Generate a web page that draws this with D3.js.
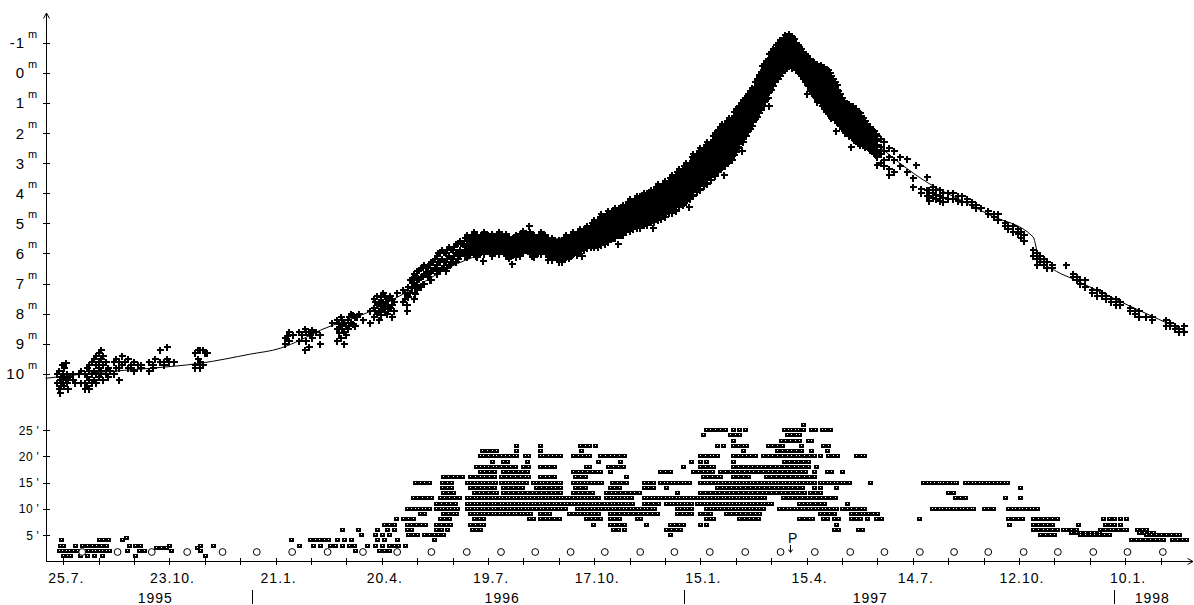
<!DOCTYPE html>
<html><head><meta charset="utf-8">
<script src="https://cdn.jsdelivr.net/npm/d3@7"></script>
<style>
body{margin:0;background:#fff;}
svg{display:block;font-family:"Liberation Sans",Arial,sans-serif;}
</style></head><body>
<svg id="c" width="1194" height="605"></svg>
<script>
// ---------------- DATA ----------------
const startDate = "1995-07-25";            // day 0 of the observation arrays
const axisEndDay = 955;
const magTicks = [-1,0,1,2,3,4,5,6,7,8,9,10];
const comaTicks = [5,10,15,20,25];
const dateTickDays = [0,90,180,270,360,450,540,630,720,810,900];
const yearLabels = ["1995","1996","1997","1998"];
const yearLabelDates = ["1995-10-11","1996-07-31","1997-06-08","1998-02-02"];
const yearStarts = ["1996-01-01","1997-01-01","1998-01-01"];
const perihelion = "1997-04-01";
const fullMoons = ["1995-08-10","1995-09-09","1995-10-08","1995-11-07","1995-12-07","1996-01-05","1996-02-04","1996-03-05","1996-04-04","1996-05-03","1996-06-01","1996-07-01","1996-07-30","1996-08-28","1996-09-27","1996-10-26","1996-11-25","1996-12-24","1997-01-23","1997-02-22","1997-03-24","1997-04-22","1997-05-22","1997-06-20","1997-07-20","1997-08-18","1997-09-16","1997-10-16","1997-11-14","1997-12-14","1998-01-12","1998-02-11"];

// fitted light curve (day, magnitude)
const curveDays = [-15,31,73,116,158,184,201,218,257,294,328,353,387,421,455,489,522,556,582,603,616,629,650,675,709,733,766,785,822,827,842,856,904,953];
const curveMags = [10.15,9.95,9.82,9.65,9.35,9.15,8.88,8.55,7.98,7.22,6.45,6.05,5.75,5.5,5.2,4.6,3.85,2.5,1.2,0.0,-0.6,-0.45,0.55,1.8,3.0,3.66,4.33,4.72,5.45,6.15,6.6,6.85,7.75,8.62];

// total magnitude estimates  "day:mag,mag,..."
const magObs = ["-5:10.0,10.3","-4:9.9,10.5","-3:10.2,10.65","-2:10.1,10.4","-1:9.7,10.2","0:10.0,10.3","1:9.8,10.1,10.4","2:9.65,10.2","3:10.0,10.3","4:10.2,10.5","6:10.1","8:10.0,10.2","10:10.3","13:10.0","15:9.9,10.3",
"18:10.3,10.5,10.0","20:10.4,10.1,9.8","22:10.5,10.2,9.7,9.9","24:10.3,10.0,9.6","26:10.2,9.9,9.5","28:10.0,9.7,9.4,10.3","30:9.8,9.3,9.6,10.1","32:9.9,9.5,9.2,10.0","34:9.7,9.4,10.2","36:9.6,9.9,10.0","38:9.8,10.1","40:9.9",
"43:9.6,10.0","45:9.5,9.8","47:9.6,9.8,10.2","50:9.4,9.7","52:9.6","55:9.5,9.8","57:9.7,9.8","60:9.6,9.9","63:9.7","66:9.8,9.7",
"73:9.6,9.9","76:9.7,9.8","78:9.5","82:9.2,9.6","85:9.6,9.7","88:9.1,9.5","90:9.6","94:9.6",
"112:9.7,9.8,9.3","114:9.5,9.2","116:9.6,9.2,9.8","118:9.2,9.7","120:9.3","122:9.3",
"188:8.8,9.0","190:8.75","191:8.6,8.9","195:8.7","200:8.9,8.6","202:8.7","205:8.5,9.2","206:8.6,8.9","208:8.6,9.1","209:8.7","211:8.55,8.8","214:8.6","218:8.7,9.0","228:8.3","232:8.2,8.5,8.9","233.5:8.35,8.65","235:8.1,8.4,8.8","236.5:8.2,8.5","238:8.3,8.6,9.0","239.5:8.4,8.7","241:8.2,8.5","242.5:8.1,8.4","244:8.0,8.3","245.5:8.05,8.35","247:8.1,8.4","249:8.1","251:8.0","254:8.2",
"260:7.9,8.3","263:7.5,7.8,8.1","264.5:7.6,7.9","266:7.4,7.7,8.0","268:7.6,7.9,8.2","269.5:7.45,7.75,8.05","271:7.3,7.6,7.8","272.5:7.4,7.7,7.95","274:7.5,7.7,8.0","275.5:7.55,7.85","277:7.4,7.8","278.5:7.5,7.7,8.1","280:7.6,7.9","283:7.3","288:7.2,7.6","289.5:7.3,7.5","291:7.4,7.7,7.9","292.5:7.1,7.45","294:6.9,7.3","295.5:6.85,7.15","297:6.7,7.0,7.5","298.5:6.75,7.05,7.35","300:6.6,6.9,7.2","301.5:6.55,6.85,7.1","303:6.5,6.8,7.1","304.5:6.45,6.75,7.0","306:6.4,6.7,7.0","307.5:6.45,6.7","309:6.5,6.8","310.5:6.35,6.65,6.9","312:6.3,6.6,6.9","313.5:6.3,6.55","315:6.2,6.5","316.5:6.1,6.4,6.7","318:6.0,6.3,6.6","319.5:5.95,6.25,6.55","321:5.9,6.2,6.5","322.5:5.95,6.25,6.5","324:6.0,6.3,6.6","325.5:5.9,6.2,6.5","327:5.8,6.1,6.4","328.5:5.85,6.15,6.35","330:5.9,6.2","331.5:5.8,6.1","333:5.7,6.0,6.3","334.5:5.65,5.95,6.2","336:5.6,5.9,6.1","337.5:5.65,5.95","339:5.7,6.0","340.5:5.5,5.8,6.1",
"342:5.4,5.58,5.76,5.94,6.12","343.5:5.5,5.68,5.86,6.04","345:5.45,5.63,5.81,5.99","346.5:5.39,5.57,5.75,5.93","348:5.3,5.48,5.66,5.84,6.02","349.5:5.4,5.58,5.76,5.94,6.1","351:5.39,5.57,5.75,5.93,6.11","352.5:5.48,5.66,5.84,6.0","354:5.4,5.58,5.76,5.94","355.5:5.39,5.57,5.75,5.93","356:6.25","357:5.3,5.48,5.66,5.84,6.02","358.5:5.39,5.57,5.75,5.93","360:5.39,5.57,5.75,5.93","361.5:5.44,5.62,5.8,5.98","363:5.35,5.53,5.71,5.89,6.07","364.5:5.44,5.62,5.8,5.98","366:5.44,5.62,5.8,5.98","367.5:5.39,5.57,5.75,5.93","369:5.3,5.48,5.66,5.84,6.02","370.5:5.39,5.57,5.75,5.93","372:5.39,5.57,5.75,5.93","373.5:5.44,5.62,5.8,5.98","375:5.35,5.53,5.71,5.89,6.07","376.5:5.44,5.62,5.8,5.98,6.1","378:5.44,5.62,5.8,5.98,6.16","379.5:5.53,5.71,5.89,6.07","380:6.35","381:5.5,5.68,5.86,6.04","382.5:5.49,5.67,5.85,6.03","384:5.4,5.58,5.76,5.94,6.12","385.5:5.44,5.62,5.8,5.98","387:5.35,5.53,5.71,5.89,6.07","388.5:5.34,5.52,5.7,5.88,6.0","390:5.25,5.43,5.61,5.79,5.97","391.5:5.34,5.52,5.7,5.88","393:5.34,5.52,5.7,5.88","394.5:5.39,5.57,5.75,5.93","395:5.1","396:5.3,5.48,5.66,5.84,6.02","397.5:5.39,5.57,5.75,5.93,6.08","399:5.39,5.57,5.75,5.93,6.11","400.5:5.48,5.66,5.84,6.02","402:5.45,5.63,5.81,5.99","403.5:5.39,5.57,5.75,5.93","405:5.3,5.48,5.66,5.84,6.02","406.5:5.39,5.57,5.75,5.93","408:5.39,5.57,5.75,5.93","409.5:5.48,5.66,5.84,6.02","411:5.5,5.68,5.86,6.04,6.22","412.5:5.59,5.77,5.95,6.13",
"414:5.5,5.68,5.86,6.04,6.22","415.5:5.59,5.77,5.95,6.13","417:5.59,5.77,5.95,6.13","418.5:5.64,5.82,6.0,6.18","420:5.55,5.73,5.91,6.09,6.27","421.5:5.64,5.82,6.0,6.18","423:5.64,5.82,6.0,6.18,6.3","424.5:5.49,5.67,5.85,6.03,6.2","426:5.4,5.58,5.76,5.94,6.12","427.5:5.49,5.67,5.85,6.03","429:5.49,5.67,5.85,6.03,6.15","430.5:5.39,5.57,5.75,5.93,6.08","432:5.3,5.48,5.66,5.84,6.02","433.5:5.39,5.57,5.75,5.93","435:5.39,5.57,5.75,5.93,6.05","436.5:5.29,5.47,5.65,5.83,5.98","438:5.2,5.38,5.56,5.74,5.92","439.5:5.29,5.47,5.65,5.83","440:6.1","441:5.19,5.37,5.55,5.73,5.88","442.5:5.19,5.37,5.55,5.73","444:5.1,5.28,5.46,5.64,5.82","445.5:5.19,5.37,5.55,5.73","447:5.09,5.27,5.45,5.63,5.78","448.5:5.0,5.18,5.36,5.54,5.72","450:4.9,5.08,5.26,5.44,5.62,5.8","451.5:4.99,5.17,5.35,5.53,5.71","453:4.89,5.07,5.25,5.43,5.61,5.79","454.5:4.79,4.97,5.15,5.33,5.51,5.69",
"456:4.7,4.88,5.06,5.24,5.42,5.6,5.72","457.5:4.79,4.97,5.15,5.33,5.51","459:4.79,4.97,5.15,5.33,5.51,5.69","460.5:4.69,4.87,5.05,5.23,5.41,5.59","462:4.6,4.78,4.96,5.14,5.32,5.5,5.62","463.5:4.69,4.87,5.05,5.23,5.41","465:4.59,4.77,4.95,5.13,5.31,5.49","466.5:4.59,4.77,4.95,5.13,5.31,5.49","468:4.5,4.68,4.86,5.04,5.22,5.4,5.5","469.5:4.59,4.77,4.95,5.13,5.31","470:5.7","471:4.49,4.67,4.85,5.03,5.21,5.39","472.5:4.49,4.67,4.85,5.03,5.21,5.39","474:4.4,4.58,4.76,4.94,5.12,5.3,5.4","475.5:4.49,4.67,4.85,5.03,5.21","477:4.39,4.57,4.75,4.93,5.11,5.29","478.5:4.29,4.47,4.65,4.83,5.01,5.19","480:4.2,4.38,4.56,4.74,4.92,5.1,5.26","481.5:4.29,4.47,4.65,4.83,5.01","483:4.29,4.47,4.65,4.83,5.01,5.19","484.5:4.19,4.37,4.55,4.73,4.91,5.09","486:4.1,4.28,4.46,4.64,4.82,5.0,5.16","487.5:4.19,4.37,4.55,4.73,4.91","489:4.09,4.27,4.45,4.63,4.81,4.99,5.17","490.5:4.09,4.27,4.45,4.63,4.81,4.99","492:4.0,4.18,4.36,4.54,4.72,4.9,5.06","493.5:4.09,4.27,4.45,4.63,4.81,4.99","495:3.99,4.17,4.35,4.53,4.71,4.89,5.07","496.5:3.99,4.17,4.35,4.53,4.71,4.89","498:3.9,4.08,4.26,4.44,4.62,4.8,4.96","499.5:3.99,4.17,4.35,4.53,4.71,4.89","500:5.15","501:3.89,4.07,4.25,4.43,4.61,4.79,4.97","502.5:3.79,3.97,4.15,4.33,4.51,4.69,4.85","504:3.7,3.88,4.06,4.24,4.42,4.6,4.78,4.9","505.5:3.79,3.97,4.15,4.33,4.51,4.69","507:3.79,3.97,4.15,4.33,4.51,4.69,4.87","508.5:3.69,3.87,4.05,4.23,4.41,4.59,4.75","510:3.6,3.78,3.96,4.14,4.32,4.5,4.68,4.8","511.5:3.69,3.87,4.05,4.23,4.41,4.59","513:3.59,3.77,3.95,4.13,4.31,4.49,4.67","514.5:3.49,3.67,3.85,4.03,4.21,4.39,4.57","516:3.4,3.58,3.76,3.94,4.12,4.3,4.48,4.66","517.5:3.49,3.67,3.85,4.03,4.21,4.39,4.57","519:3.39,3.57,3.75,3.93,4.11,4.29,4.47,4.6","520.5:3.29,3.47,3.65,3.83,4.01,4.19,4.37","522:3.2,3.38,3.56,3.74,3.92,4.1,4.28,4.46","523.5:3.29,3.47,3.65,3.83,4.01,4.19,4.37","525:3.19,3.37,3.55,3.73,3.91,4.09,4.27,4.4","526.5:3.09,3.27,3.45,3.63,3.81,3.99,4.17,4.33","528:3.0,3.18,3.36,3.54,3.72,3.9,4.08,4.26","529.5:3.09,3.27,3.45,3.63,3.81,3.99,4.17","530:4.45","531:2.99,3.17,3.35,3.53,3.71,3.89,4.07,4.2","532.5:2.79,2.97,3.15,3.33,3.51,3.69,3.87,4.05","534:2.7,2.88,3.06,3.24,3.42,3.6,3.78,3.96,4.1","535.5:2.79,2.97,3.15,3.33,3.51,3.69,3.87","537:2.69,2.87,3.05,3.23,3.41,3.59,3.77,3.95","538.5:2.59,2.77,2.95,3.13,3.31,3.49,3.67,3.85","540:2.5,2.68,2.86,3.04,3.22,3.4,3.58,3.76,3.9","541.5:2.59,2.77,2.95,3.13,3.31,3.49,3.67","543:2.49,2.67,2.85,3.03,3.21,3.39,3.57,3.75","544.5:2.39,2.57,2.75,2.93,3.11,3.29,3.47,3.65","546:2.3,2.48,2.66,2.84,3.02,3.2,3.38,3.56,3.7","547.5:2.39,2.57,2.75,2.93,3.11,3.29,3.47","549:2.29,2.47,2.65,2.83,3.01,3.19,3.37,3.55","550.5:2.09,2.27,2.45,2.63,2.81,2.99,3.17,3.35",
"552:2.0,2.18,2.36,2.54,2.72,2.9,3.08,3.26,3.44","553.5:1.99,2.17,2.35,2.53,2.71,2.89,3.07,3.25","555:1.89,2.07,2.25,2.43,2.61,2.79,2.97,3.15,3.3","556.5:1.79,1.97,2.15,2.33,2.51,2.69,2.87,3.05,3.2","558:1.7,1.88,2.06,2.24,2.42,2.6,2.78,2.96,3.14","559.5:1.79,1.97,2.15,2.33,2.51,2.69,2.87,3.05","560:3.4","561:1.69,1.87,2.05,2.23,2.41,2.59,2.77,2.95,3.1","562.5:1.59,1.77,1.95,2.13,2.31,2.49,2.67,2.85,3.0","564:1.5,1.68,1.86,2.04,2.22,2.4,2.58,2.76,2.94","565.5:1.59,1.77,1.95,2.13,2.31,2.49,2.67,2.85","567:1.49,1.67,1.85,2.03,2.21,2.39,2.57,2.75,2.9","568.5:1.29,1.47,1.65,1.83,2.01,2.19,2.37,2.55,2.72","570:1.2,1.38,1.56,1.74,1.92,2.1,2.28,2.46,2.64","571.5:1.19,1.37,1.55,1.73,1.91,2.09,2.27,2.45","573:1.09,1.27,1.45,1.63,1.81,1.99,2.17,2.35,2.5","574.5:0.99,1.17,1.35,1.53,1.71,1.89,2.07,2.25","575:2.6","576:0.9,1.08,1.26,1.44,1.62,1.8,1.98,2.16,2.3","577.5:0.84,1.02,1.2,1.38,1.56,1.74,1.92,2.1","579:0.84,1.02,1.2,1.38,1.56,1.74,1.92,2.1","580.5:0.69,0.87,1.05,1.23,1.41,1.59,1.77,1.95","582:0.6,0.78,0.96,1.14,1.32,1.5,1.68,1.86","583.5:0.51,0.69,0.87,1.05,1.23,1.41,1.59,1.77","585:0.54,0.72,0.9,1.08,1.26,1.44,1.62","586.5:0.29,0.47,0.65,0.83,1.01,1.19,1.37,1.55","588:0.2,0.38,0.56,0.74,0.92,1.1,1.28,1.46","589.5:0.08,0.26,0.44,0.62,0.8,0.98,1.16,1.34","591:-0.01,0.17,0.35,0.53,0.71,0.89,1.07,1.25","592.5:-0.21,-0.03,0.15,0.33,0.51,0.69,0.87,1.05","594:-0.3,-0.12,0.06,0.24,0.42,0.6,0.78,0.96,1.1","595.5:-0.39,-0.21,-0.03,0.15,0.33,0.51,0.69,0.87","597:-0.41,-0.23,-0.05,0.13,0.31,0.49,0.67,0.85","598:1.1","598.5:-0.61,-0.43,-0.25,-0.07,0.11,0.29,0.47,0.65","600:-0.7,-0.52,-0.34,-0.16,0.02,0.2,0.38,0.56","601.5:-0.79,-0.61,-0.43,-0.25,-0.07,0.11,0.29,0.45","603:-0.76,-0.58,-0.4,-0.22,-0.04,0.14,0.32","604.5:-0.91,-0.73,-0.55,-0.37,-0.19,-0.01,0.17","606:-1.0,-0.82,-0.64,-0.46,-0.28,-0.1,0.08,0.2","607.5:-1.09,-0.91,-0.73,-0.55,-0.37,-0.19,-0.01,0.1","609:-1.06,-0.88,-0.7,-0.52,-0.34,-0.16,0.0","610.5:-1.16,-0.98,-0.8,-0.62,-0.44,-0.26,-0.08","612:-1.25,-1.07,-0.89,-0.71,-0.53,-0.35,-0.17","613.5:-1.21,-1.03,-0.85,-0.67,-0.49,-0.31,-0.15","615:-1.3,-1.12,-0.94,-0.76,-0.58,-0.4,-0.22","616.5:-1.21,-1.03,-0.85,-0.67,-0.49,-0.31","618:-1.2,-1.02,-0.84,-0.66,-0.48,-0.3,-0.15","619.5:-1.11,-0.93,-0.75,-0.57,-0.39,-0.21","621:-1.0,-0.82,-0.64,-0.46,-0.28,-0.1","622.5:-0.91,-0.73,-0.55,-0.37,-0.19,-0.05","624:-0.85,-0.67,-0.49,-0.31,-0.13,0.02","625.5:-0.79,-0.61,-0.43,-0.25,-0.07,0.11","627:-0.7,-0.52,-0.34,-0.16,0.02,0.2","628.5:-0.61,-0.43,-0.25,-0.07,0.11,0.29","630:-0.55,-0.37,-0.19,-0.01,0.17,0.35,0.7","631.5:-0.46,-0.28,-0.1,0.08,0.26,0.44","633:-0.45,-0.27,-0.09,0.09,0.27,0.45,0.6","634.5:-0.36,-0.18,0.0,0.18,0.36,0.54,0.68","636:-0.35,-0.17,0.01,0.19,0.37,0.55,0.73","637.5:-0.26,-0.08,0.1,0.28,0.46,0.64,0.82","639:-0.3,-0.12,0.06,0.24,0.42,0.6,0.78,0.96","640.5:-0.21,-0.03,0.15,0.33,0.51,0.69,0.87","642:-0.25,-0.07,0.11,0.29,0.47,0.65,0.83,1.01","643.5:-0.16,0.02,0.2,0.38,0.56,0.74,0.92,1.1","645:-0.2,-0.02,0.16,0.34,0.52,0.7,0.88,1.06,1.2","646.5:-0.11,0.07,0.25,0.43,0.61,0.79,0.97,1.15,1.28","648:-0.1,0.08,0.26,0.44,0.62,0.8,0.98,1.16,1.34","649.5:0.01,0.19,0.37,0.55,0.73,0.91,1.09,1.27,1.42","651:0.1,0.28,0.46,0.64,0.82,1.0,1.18,1.36,1.5","652.5:0.19,0.37,0.55,0.73,0.91,1.09,1.27,1.45","654:0.3,0.48,0.66,0.84,1.02,1.2,1.38,1.56","655:1.95","655.5:0.39,0.57,0.75,0.93,1.11,1.29,1.47,1.65","657:0.6,0.78,0.96,1.14,1.32,1.5,1.68","658.5:0.69,0.87,1.05,1.23,1.41,1.59,1.77","660:0.85,1.03,1.21,1.39,1.57,1.75,1.85","661.5:0.94,1.12,1.3,1.48,1.66,1.84","663:1.0,1.18,1.36,1.54,1.72,1.9,2.0","664.5:1.09,1.27,1.45,1.63,1.81,1.99","666:1.05,1.23,1.41,1.59,1.77,1.95,2.1","667.5:1.14,1.32,1.5,1.68,1.86,2.04","668:2.45","669:1.1,1.28,1.46,1.64,1.82,2.0,2.18","670.5:1.19,1.37,1.55,1.73,1.91,2.09,2.22","672:1.2,1.38,1.56,1.74,1.92,2.1,2.28","673.5:1.29,1.47,1.65,1.83,2.01,2.19,2.33","675:1.35,1.53,1.71,1.89,2.07,2.25,2.4","676.5:1.44,1.62,1.8,1.98,2.16,2.34","678:1.5,1.68,1.86,2.04,2.22,2.4","679.5:1.59,1.77,1.95,2.13,2.31,2.45","681:1.7,1.88,2.06,2.24,2.42","682.5:1.79,1.97,2.15,2.33,2.5","684:1.8,1.98,2.16,2.34,2.55","685.5:1.89,2.07,2.25,2.43,2.6","687:1.95,2.13,2.31,2.49,2.67","688.5:2.04,2.22,2.4,2.58,2.72","690:2.1,2.28,2.46,2.64,2.8,3.05","693:2.2,2.45,2.7,3.0","696:2.3,2.6,2.9,3.1","700:2.5,2.8,3.2,3.4","704:2.6,2.9,3.3","709:2.8,3.1","715:2.85,3.3","720:3.5,3.8","723:3.07","727:3.85,4.0","732:3.45,3.9,4.1",
"734:3.9,4.1,4.25","737:3.8,4.0,4.15","740:3.9,4.05,4.2","743:3.9,4.1,4.25","746:4.0,4.15,4.3","750:4.0,4.2","754:4.0,4.2","758:4.1,4.25","762:4.1,4.3","766:4.2,4.3","770:4.3,4.4","774:4.4,4.5","778:4.5","784:4.6,4.7","789:4.7,4.8","792:4.7,4.9","798:5.0,5.1","801:5.1,5.2","805:5.1,5.3","809:5.2,5.35","812:5.3,5.5","814:5.4,5.6","822:5.9,6.1","825:6.0,6.2,6.4","828:6.1,6.3","831:6.2,6.4","834:6.3,6.5","838:6.4,6.5","850:6.4","856:6.7,6.8","859:6.8,6.9","862:6.9,7.0","866:6.9,7.1","872:7.2,7.3","876:7.2,7.4","880:7.3,7.4","884:7.4,7.5","888:7.5,7.6","892:7.5,7.7","896:7.6,7.7","904:7.8,7.9","908:7.9,8.0","912:7.9,8.1","918:8.1","923:8.1,8.2","935:8.2,8.4","938:8.3,8.4","942:8.4,8.5","946:8.5,8.6","950:8.4,8.6"];

// coma diameter estimates (arcmin)  "diameter:day,day,..."
const comaObs = [
"26:627",
"25:545,548,552,557,561,568,573,578,611,614,617,620,623,627,634,637,643,646,650",
"24:542,565,569,573,613,617,621,624",
"23:568,608,612,616,620,624,631,634",
"22:384,404,438,442,446,451,554,559,568,572,576,579,597,601,605,609,625,644,648",
"21:355,359,363,367,384,404,439,576,605,609,613,617,621,625,634,647",
"20:353,356,360,364,367,371,374,378,381,384,391,394,404,407,411,414,418,421,432,436,440,443,446,455,459,463,467,471,475,540,544,548,551,554,568,572,575,579,582,586,593,597,601,605,609,613,617,621,624,628,632,636,641,648,652,656,672,676,679",
"19:363,373,376,393,453,472,532,540,545,568,611,615,619,623,627,631",
"18:350,353,357,360,364,367,371,375,379,383,390,394,404,408,412,416,443,446,462,466,470,474,525,540,544,548,551,568,572,576,580,584,588,591,595,599,603,607,611,615,619,623,627,631,638",
"17:353,357,361,365,373,377,381,385,389,393,432,436,440,444,448,452,455,463,506,510,514,534,538,542,546,550,557,561,565,569,573,577,581,585,589,593,597,601,605,609,613,617,621,625,629,636,647,651,660",
"16:322,326,330,334,338,345,349,353,357,361,365,371,375,379,383,387,391,394,404,408,412,416,434,438,442,477,542,546,550,554,557,568,572,576,580,596,600,604,608,612,616,620,624,628,632,636",
"15:298,302,306,310,321,325,329,342,345,348,351,354,357,360,363,366,371,374,377,380,383,386,389,392,398,401,404,407,410,413,416,419,421,432,435,438,441,444,447,450,453,456,465,469,473,477,492,496,500,506,509,512,515,518,521,524,527,530,540,543,546,549,552,555,558,561,564,567,570,573,576,579,582,585,588,591,594,597,600,603,606,609,612,615,618,621,624,627,630,633,636,641,644,647,650,653,656,659,662,666,684,729,732,735,738,741,743,746,749,752,755,757,764,767,770,773,776,779,782,785,788,791,794,797,800",
"14:321,325,329,345,349,353,357,361,365,373,377,381,385,389,401,405,409,413,417,421,434,438,442,463,467,471,492,496,500,511,554,558,562,566,570,574,578,582,586,590,594,598,602,606,610,614,618,622,626,636,641,655,811",
"13:322,326,330,348,352,356,360,364,367,373,377,381,385,389,393,397,401,405,409,413,417,421,432,436,440,444,448,460,464,468,472,476,480,484,488,520,540,544,548,552,556,560,564,568,572,576,580,584,588,592,596,600,604,608,612,616,620,624,628,633,637,641,750,754",
"12:296,300,304,308,312,319,323,327,331,335,342,345,348,351,354,357,360,363,366,369,372,375,378,381,384,387,390,393,396,399,402,405,408,411,414,417,420,423,426,429,432,435,438,441,444,447,450,453,460,463,466,469,472,475,478,481,492,495,498,501,504,507,510,513,516,519,522,525,528,531,534,537,540,543,546,549,552,555,558,561,564,567,570,573,576,579,582,585,588,591,594,610,614,618,622,626,630,634,638,642,646,650,654,756,760,764,798,811",
"11:316,320,324,328,332,342,345,348,351,354,357,360,363,366,370,373,376,379,382,385,388,391,394,397,400,403,406,409,412,415,418,421,424,427,430,433,436,439,442,445,448,451,454,458,461,464,467,470,473,476,479,482,492,496,500,504,511,514,517,520,523,526,529,532,537,540,543,546,549,552,555,558,561,564,567,570,573,576,579,582,585,588,591,594,597,600,624,627,630,633,637,641,645,664",
"10:291,295,298,301,304,307,310,316,319,322,325,328,331,334,342,345,348,351,354,357,360,363,366,370,373,376,379,382,385,388,391,394,397,401,404,407,410,413,416,419,422,425,435,438,441,444,447,450,453,456,459,462,465,468,471,474,477,480,483,486,489,492,495,498,501,520,523,526,529,532,545,548,551,554,557,560,563,566,569,572,575,578,581,584,587,590,593,607,610,613,616,619,622,625,628,631,634,637,640,643,646,649,652,655,660,664,668,672,676,679,736,739,742,745,748,751,754,757,760,763,766,769,771,780,784,788,801,804,807,810,813,816,819,822,825",
"9:302,306,322,326,330,333,345,348,351,354,357,360,363,366,369,372,375,378,381,384,387,390,393,396,404,408,412,429,432,435,438,441,444,447,450,453,463,467,471,475,479,483,487,491,495,499,503,520,524,528,532,540,544,548,562,566,570,574,578,582,586,590,641,645,649,653,668,672,676,679,682,686,690",
"8:282,288,292,296,319,323,327,348,352,356,395,398,404,408,412,416,420,443,447,451,455,463,467,471,486,489,545,548,551,573,577,581,585,589,624,628,632,635,644,647,653,657,668,672,675,681,689,693,725,801,805,809,813,822,826,830,834,838,842,881,886,891,896,901",
"7:272,276,280,291,295,299,303,307,316,320,324,328,345,349,353,356,449,463,467,471,475,494,514,518,522,525,540,545,655,802,822,826,830,834,838,860,883,887,891,896",
"6:236,250,266,274,280,291,295,316,320,325,346,350,353,466,470,475,511,515,519,523,653,657,674,677,822,826,830,834,838,842,847,850,854,858,879,883,887,890,894,898,901,910,914,918",
"5.5:854,858,862,866,870,874,878,912,916,920,924",
"5:252,264,270,276,292,296,300,306,310,314,318,322,514,828,832,836,840,862,866,870,874,878,882,886,918,922,926,930,935,939,943,946",
"4.5:53",
"4:-2,30,34,38,50,193,209,213,217,221,224,232,238,244,266,272,283,314,905,909,913,917,921,925,929,932,940,944,948,952",
"3:-3,0,10,16,20,24,28,32,36,56,61,65,90,116,127,200,212,218,226,230,236,242,246,257,264,270,276,280,284,290",
"2.5:79,83,87,113",
"2:-4,-1,2,5,8,12,15,18,21,24,27,30,33,36,39,54,64,68,91,116,247,268,272,276",
"1:0,3,6,14,20,26,33,61,120"
];

// ---------------- DRAWING ----------------
const DAY = 864e5;
const t0 = Date.parse(startDate + "T00:00:00Z");
const dayToDate = d => new Date(t0 + d * DAY);
const parseDate = s => new Date(Date.parse(s + "T00:00:00Z"));

const x = d3.scaleUtc().domain([dayToDate(-14.66), dayToDate(axisEndDay)]).range([46, 1190]);
const yMag = d3.scaleLinear().domain([-1, 10]).range([42.7, 373.8]);
const yComa = d3.scaleLinear().domain([0, 25]).range([561.5, 430.2]);

const svg = d3.select("#c");
const ink = "#000";

const magPts = magObs.flatMap(s => { const [d, v] = s.split(":"); return v.split(",").map(m => ({d: +d, m: +m})); });
const comaPts = comaObs.flatMap(s => { const [v, ds] = s.split(":"); return ds.split(",").map(d => ({d: +d, v: +v})); });

// coma squares (black with a small white centre)
const cx = p => Math.round(x(dayToDate(p.d)));
const cy = p => Math.round(yComa(p.v));
const cg = svg.append("g").attr("shape-rendering", "crispEdges");
cg.selectAll("rect.b").data(comaPts).join("rect").attr("class", "b")
  .attr("x", p => cx(p) - 2).attr("y", p => cy(p) - 2)
  .attr("width", 5).attr("height", 4).attr("fill", ink);
cg.selectAll("rect.w").data(comaPts).join("rect").attr("class", "w")
  .attr("x", p => cx(p)).attr("y", p => cy(p) - 1)
  .attr("width", 1).attr("height", 1).attr("fill", "#fff");

// full moons
svg.append("g").selectAll("circle").data(fullMoons).join("circle")
  .attr("cx", s => x(parseDate(s))).attr("cy", 552).attr("r", 3.4)
  .attr("fill", "#fff").attr("stroke", ink).attr("stroke-width", 1);

// fitted curve
const line = d3.line().x(d => x(dayToDate(d[0]))).y(d => yMag(d[1])).curve(d3.curveMonotoneX);
svg.append("path").datum(curveDays.map((d, i) => [d, curveMags[i]]))
  .attr("d", line).attr("fill", "none").attr("stroke", ink).attr("stroke-width", 1);

// magnitude crosses
svg.append("g").selectAll("path").data(magPts).join("path")
  .attr("transform", p => `translate(${Math.round(x(dayToDate(p.d)))},${Math.round(yMag(p.m))})`)
  .attr("d", "M-3,0H4M0,-3V4")
  .attr("stroke", ink).attr("stroke-width", 2).attr("fill", "none")
  .attr("shape-rendering", "crispEdges");

// axes
const ax = svg.append("g").attr("stroke", ink).attr("fill", "none").attr("shape-rendering", "crispEdges");
ax.append("line").attr("x1", 46.5).attr("x2", 46.5).attr("y1", 13).attr("y2", 562);
ax.append("line").attr("x1", 46).attr("x2", 1193).attr("y1", 561.5).attr("y2", 561.5);
svg.append("path").attr("d", "M43.5,18.5L46.5,13L49.5,18.5").attr("stroke", ink).attr("fill", "none");
svg.append("path").attr("d", "M1187.5,558.5L1193,561.5L1187.5,564.5").attr("stroke", ink).attr("fill", "none");

magTicks.forEach(m => {
  const y = Math.round(yMag(m)) + 0.5;
  ax.append("line").attr("x1", 43).attr("x2", 50).attr("y1", y).attr("y2", y);
});
comaTicks.forEach(v => {
  const y = Math.round(yComa(v)) + 0.5;
  ax.append("line").attr("x1", 43).attr("x2", 50).attr("y1", y).attr("y2", y);
});
d3.range(0, 931, 30).forEach(d => {
  const xx = Math.round(x(dayToDate(d))) + 0.5;
  ax.append("line").attr("x1", xx).attr("x2", xx).attr("y1", 558).attr("y2", 565);
});

const txt = svg.append("g").attr("fill", ink);
magTicks.forEach(m => {
  const y = yMag(m);
  txt.append("text").attr("x", 25).attr("y", y + 5.5).attr("text-anchor", "end")
    .attr("font-size", 15).attr("letter-spacing", 1).text(String(m));
  txt.append("text").attr("x", 28).attr("y", y - 5).attr("font-size", 11).text("m");
});
comaTicks.forEach(v => {
  const y = yComa(v);
  txt.append("text").attr("x", 33.5).attr("y", y + 4.3).attr("text-anchor", "end")
    .attr("font-size", 12).attr("letter-spacing", 0.7).text(String(v));
  txt.append("text").attr("x", 36.5).attr("y", y + 4.3).attr("font-size", 12).text("'");
});
const fmt = d3.utcFormat("%-d.%-m.");
dateTickDays.forEach(d => {
  txt.append("text").attr("x", x(dayToDate(d)) + 3).attr("y", 583).attr("text-anchor", "middle")
    .attr("font-size", 14).attr("letter-spacing", 1).text(fmt(dayToDate(d)));
});
yearLabels.forEach((s, i) => {
  txt.append("text").attr("x", x(parseDate(yearLabelDates[i]))).attr("y", 603).attr("text-anchor", "middle")
    .attr("font-size", 14).attr("letter-spacing", 1).text(s);
});
yearStarts.forEach(s => {
  const xx = Math.round(x(parseDate(s))) + 0.5;
  ax.append("line").attr("x1", xx).attr("x2", xx).attr("y1", 590).attr("y2", 604);
});

// perihelion marker
const px = x(parseDate(perihelion));
txt.append("text").attr("x", px - 2).attr("y", 543).attr("font-size", 14).text("P");
svg.append("path").attr("d", `M${Math.round(px)+0.5},545V552M${Math.round(px)-1.5},549.5L${Math.round(px)+0.5},552.5L${Math.round(px)+2.5},549.5`)
  .attr("stroke", ink).attr("fill", "none").attr("stroke-width", 1);
</script>
</body></html>
